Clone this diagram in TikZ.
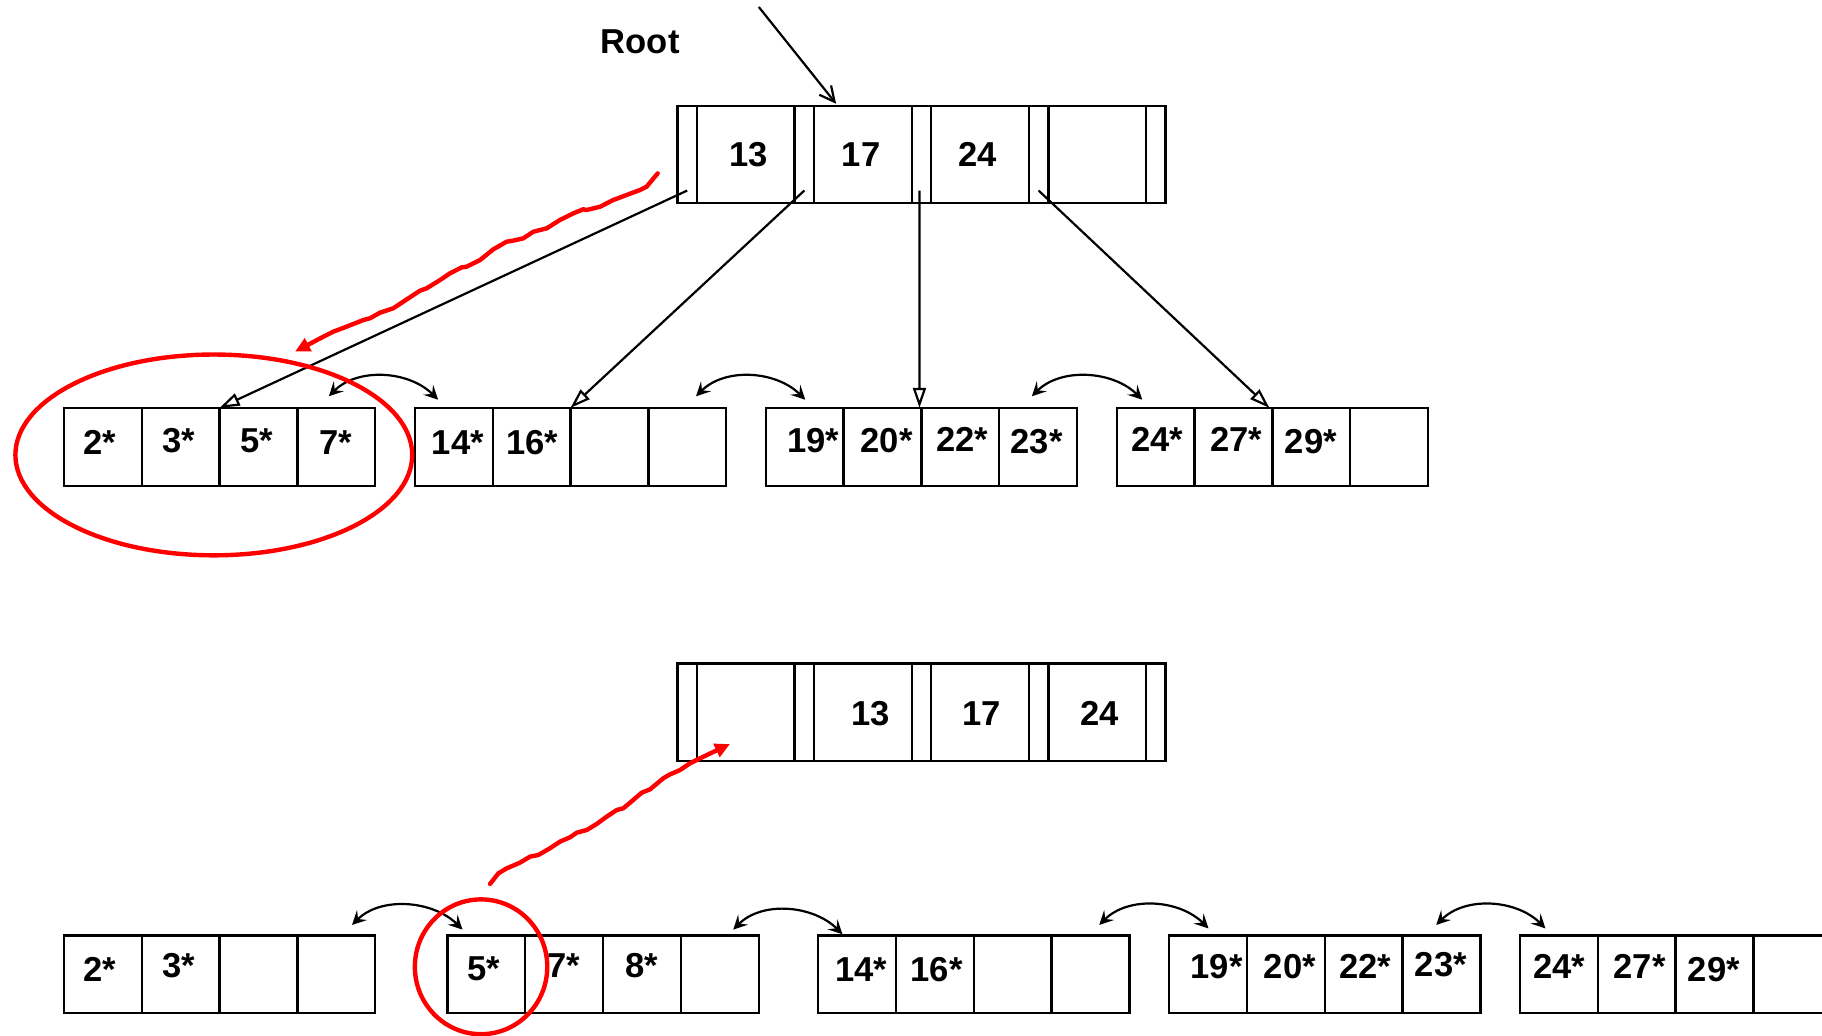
\documentclass[tikz,border=0pt]{standalone}
\usepackage{fontspec}
\setmainfont{Liberation Sans}
\usetikzlibrary{arrows.meta}
\begin{document}
\begin{tikzpicture}[x=0.581pt,y=-0.581pt,
  cell/.style={draw, line width=1.15pt, anchor=north west, minimum width=38.93pt, minimum height=38.93pt, inner sep=0pt, outer sep=0pt},
  pslot/.style={draw, line width=1.15pt, anchor=north west, minimum width=9.76pt, minimum height=48.8pt, inner sep=0pt, outer sep=0pt},
  kslot/.style={draw, line width=1.15pt, anchor=north west, minimum width=48.8pt, minimum height=48.8pt, inner sep=0pt, outer sep=0pt},
  lab/.style={font=\fontsize{17.3}{20}\selectfont\bfseries, inner sep=0pt},
  ptr/.style={line width=1.1pt, -{Triangle[open,length=10pt,width=6.5pt,line width=1.1pt]}},
  sib/.style={line width=1.1pt, {Stealth[length=7pt,width=7pt,inset=2.8pt]}-{Stealth[length=7pt,width=7pt,inset=2.8pt]}},
  rootarrow/.style={line width=1.1pt, -{Straight Barb[length=7.5pt,width=7.5pt]}},
  redpen/.style={draw=red, line width=2.2pt, line join=round, line cap=round},
  redtip/.style={-{Triangle[length=7.5pt,width=7pt,fill=red]}}
]
\useasboundingbox (0,0) rectangle (1568,891);
\clip (0,0) rectangle (1568,891);

% index nodes (top: before, middle: after)
\foreach \rn/\yy in {T/91, M/571} {
  \foreach \i in {0,...,4} \node[pslot] (\rn p\i) at ({583+100.8*\i},\yy) {};
  \foreach \i in {1,...,4} \node[kslot] (\rn k\i) at ({583+16.8+100.8*(\i-1)},\yy) {};
}

% leaf pages
\foreach \lf/\xx/\yy in {L1/55/351, L2/357/351, L3/659/351, L4/961/351,
                         B1/55/805, B2/385/805, B3/704/805, B4/1006/805, B5/1308/805} {
  \foreach \i in {0,...,3} \node[cell] (\lf c\i) at ({\xx+67*\i},\yy) {};
}

% texts
\node[lab] (rootlab) at (551,36) {Root};
\foreach \tx/\xx/\yy [count=\k] in {13/644/133, 17/741/133, 24/841/133,
   13/749/614, 17/845/614, 24/946/614,
   2*/86/381, 3*/154/379, 5*/221/379, 7*/289/381,
   14*/394/381, 16*/458/381,
   19*/700/379, 20*/763/379, 22*/828/378, 23*/892/380,
   24*/996/378, 27*/1064/378, 29*/1128/380,
   2*/86/834, 3*/154/831,
   5*/416/834, 7*/485/831, 8*/552/831,
   14*/741/834, 16*/806/834,
   19*/1047/832, 20*/1110/832, 22*/1175/832, 23*/1240/830,
   24*/1342/832, 27*/1411/832, 29*/1475/834}
  \node[lab] (txt\k) at (\xx,\yy) {\tx};

% root entry arrow
\coordinate (rootsrc) at (653,6);
\draw[rootarrow] (rootsrc) -- ([xshift=11pt,yshift=1pt]Tk2.north west);

% pointers from the root to the leaves
\draw[ptr] ([yshift=6.4pt]Tp0.south) -- (L1c2.north west);
\draw[ptr] ([yshift=6.4pt]Tp1.south) -- (L2c2.north west);
\draw[ptr] ([xshift=-1pt,yshift=6.4pt]Tp2.south) -- ([xshift=-1pt]L3c2.north west);
\draw[ptr] ([yshift=6.4pt]Tp3.south) -- ([xshift=-1.5pt]L4c2.north west);

% sibling links (top row)
\coordinate (s1a) at (283,341); \coordinate (s1b) at (377,344);
\coordinate (s2a) at (599,341); \coordinate (s2b) at (693,344);
\coordinate (s3a) at (888,341); \coordinate (s3b) at (983,344);
% sibling links (bottom row)
\coordinate (s4a) at (303,796); \coordinate (s4b) at (398,800);
\coordinate (s5a) at (631,800); \coordinate (s5b) at (725,804);
\coordinate (s6a) at (946,796); \coordinate (s6b) at (1040,799);
\coordinate (s7a) at (1236,796); \coordinate (s7b) at (1330,799);
\foreach \p in {1,...,7}
  \draw[sib] (s\p a) .. controls +(25,-25) and +(-25,-25) .. (s\p b);

% red annotations
\draw[redpen] (184,391.5) ellipse [x radius=99.2pt, y radius=50.2pt];
\draw[redpen] (414,832) ellipse [x radius=33.1pt, y radius=33.7pt];

\draw[redpen, redtip] (566.0,149.2) -- (556.5,160.6) -- (550.8,163.5) -- (527.8,172.1) -- (516.4,177.9)
  -- (504.9,180.7) -- (502,180.1) -- (493.4,183.6) -- (481.9,189.3) -- (470.5,196.5) -- (459,199.4)
  -- (450.4,205.1) -- (441.7,207.1) -- (436,208) -- (424.5,214.6) -- (413.1,223.8) -- (401.6,229.5)
  -- (397.3,230.1) -- (387.3,235.2) -- (378.7,241) -- (367.2,248.1) -- (361.4,250.2) -- (355.7,253.9)
  -- (338.5,265.3) -- (327,269.1) -- (318.4,273.9) -- (312.7,275.4) -- (298.3,281.1) -- (286.9,285.4)
  -- (278.2,289.8) -- (253.9,302.6);

\draw[redpen, redtip] (421.7,760.7) -- (428.9,751.6) -- (436,747.3) -- (447.5,742.4) -- (456.1,737.2)
  -- (463.3,735.8) -- (473.3,730) -- (481.9,724.3) -- (490.5,720.6) -- (496.3,716.6) -- (504.9,714.3)
  -- (513.5,709.1) -- (522.1,702.8) -- (530.7,697.1) -- (536.4,695.6) -- (542.2,690.8) -- (552.2,682.2)
  -- (559.4,679.3) -- (570.8,669.8) -- (576.6,666.4) -- (585.2,662.7) -- (593.8,656.9) -- (602.4,652.6)
  -- (628.2,640.3);
\end{tikzpicture}
\end{document}
